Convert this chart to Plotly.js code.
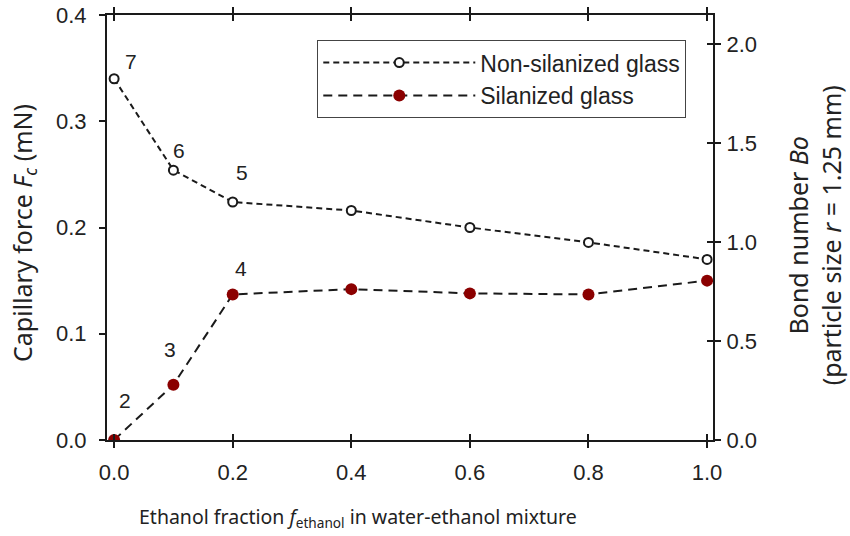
<!DOCTYPE html>
<html><head><meta charset="utf-8">
<script src="https://cdn.plot.ly/plotly-3.0.1.min.js"></script>
<style>body{margin:0;background:#fff}#c{width:850px;height:536px}</style>
</head><body><div id="c"></div>
<script>
const fraction = [0.0, 0.1, 0.2, 0.4, 0.6, 0.8, 1.0];
const nonSilanized = [0.340, 0.254, 0.224, 0.216, 0.200, 0.186, 0.170];
const silanized = [0.000, 0.052, 0.137, 0.142, 0.138, 0.137, 0.150];
const pointLabelsNon = ['7', '6', '5'];
const pointLabelsSil = ['2', '3', '4'];
const xTicks = [0.0, 0.2, 0.4, 0.6, 0.8, 1.0];
const yTicks = [0.0, 0.1, 0.2, 0.3, 0.4];
const y2Ticks = [0.0, 0.5, 1.0, 1.5, 2.0];
const seriesNames = ['Non-silanized glass', 'Silanized glass'];
const xTitle = 'Ethanol fraction <i>f</i><sub>ethanol</sub> in water-ethanol mixture';
const yTitle = 'Capillary force <i>F<sub>c</sub></i> (mN)';
const y2Title = 'Bond number <i>Bo</i><br>(particle size <i>r</i> = 1.25 mm)';

const ink = '#1a1a1a';
const tickFont = {family: 'Liberation Sans, Arial, sans-serif', size: 22, color: '#222'};
const titleFont = {family: 'Noto Sans, sans-serif', size: 25, color: '#222'};

const traces = [
  {x: fraction, y: nonSilanized, name: seriesNames[0], mode: 'lines+markers',
   line: {color: ink, width: 2, dash: '6px,4px'},
   marker: {symbol: 'circle', size: 9, color: '#fff', line: {color: ink, width: 2}}},
  {x: fraction, y: silanized, name: seriesNames[1], mode: 'lines+markers',
   line: {color: ink, width: 2, dash: '9px,6px'},
   marker: {symbol: 'circle', size: 12, color: '#8b0000', line: {width: 0}}},
  {x: [0], y: [0], yaxis: 'y2', mode: 'markers', marker: {opacity: 0}, showlegend: false, hoverinfo: 'skip'},
  {x: [0], y: [0], yaxis: 'y3', xaxis: 'x2', mode: 'markers', marker: {opacity: 0}, showlegend: false, hoverinfo: 'skip'}
];

const offNon = [[17, 17], [6, 20], [9, 30]];
const offSil = [[11, 40], [-3, 35], [8, 26]];
const annotations = [];
pointLabelsNon.forEach((t, i) => annotations.push({x: fraction[i], y: nonSilanized[i], text: t, showarrow: false,
  xshift: offNon[i][0], yshift: offNon[i][1], font: {family: tickFont.family, size: 21, color: '#222'}}));
pointLabelsSil.forEach((t, i) => annotations.push({x: fraction[i], y: silanized[i], text: t, showarrow: false,
  xshift: offSil[i][0], yshift: offSil[i][1], font: {family: tickFont.family, size: 21, color: '#222'}}));
annotations.push({xref: 'paper', yref: 'paper', x: -0.138, y: 0.488, text: yTitle, textangle: -90,
  showarrow: false, xanchor: 'center', yanchor: 'middle', font: titleFont});
annotations.push({xref: 'paper', yref: 'paper', x: 1.167, y: 0.482, text: y2Title, textangle: -90,
  showarrow: false, xanchor: 'center', yanchor: 'middle', font: titleFont});
annotations.push({xref: 'paper', yref: 'paper', x: 0.414, y: -0.183, text: xTitle,
  showarrow: false, xanchor: 'center', yanchor: 'middle', font: {family: titleFont.family, size: 19.5, color: '#222'}});

const axisBase = {showgrid: false, zeroline: false, linecolor: ink, linewidth: 2,
  tickwidth: 2, tickcolor: ink, ticklen: 6, tickformat: '.1f', tickfont: tickFont};

const layout = {
  width: 850, height: 536,
  margin: {l: 107, r: 137, t: 15, b: 96},
  paper_bgcolor: '#fff', plot_bgcolor: '#fff',
  showlegend: true,
  legend: {x: 0.347, y: 0.941, xanchor: 'left', yanchor: 'top', bordercolor: '#444', borderwidth: 1,
    bgcolor: '#fff', font: {family: 'Liberation Sans, Arial, sans-serif', size: 23, color: '#222'},
    itemwidth: 152, tracegroupgap: 0},
  xaxis: Object.assign({}, axisBase, {range: [-0.012, 1.01], tickvals: xTicks, showline: true,
    mirror: 'ticks', ticks: 'outside', ticklabelstandoff: 6}),
  xaxis2: {overlaying: 'x', matches: 'x', showgrid: false, zeroline: false, showticklabels: false, tickvals: xTicks,
    ticks: 'inside', ticklen: 6, tickwidth: 2, tickcolor: ink, mirror: 'ticks', showline: false},
  yaxis: Object.assign({}, axisBase, {range: [0, 0.4], tickvals: yTicks, showline: true, ticks: 'outside',
    ticklabelstandoff: 8}),
  yaxis2: Object.assign({}, axisBase, {overlaying: 'y', side: 'right', range: [0, 2.146], tickvals: y2Ticks,
    showline: true, ticks: 'outside', ticklabelstandoff: 1}),
  yaxis3: {overlaying: 'y', side: 'right', range: [0, 2.146], tickvals: y2Ticks, showgrid: false, zeroline: false,
    showticklabels: false, ticks: 'inside', ticklen: 6, tickwidth: 2, tickcolor: ink, showline: false},
  annotations: annotations
};
Plotly.newPlot('c', traces, layout, {staticPlot: true});
</script></body></html>
